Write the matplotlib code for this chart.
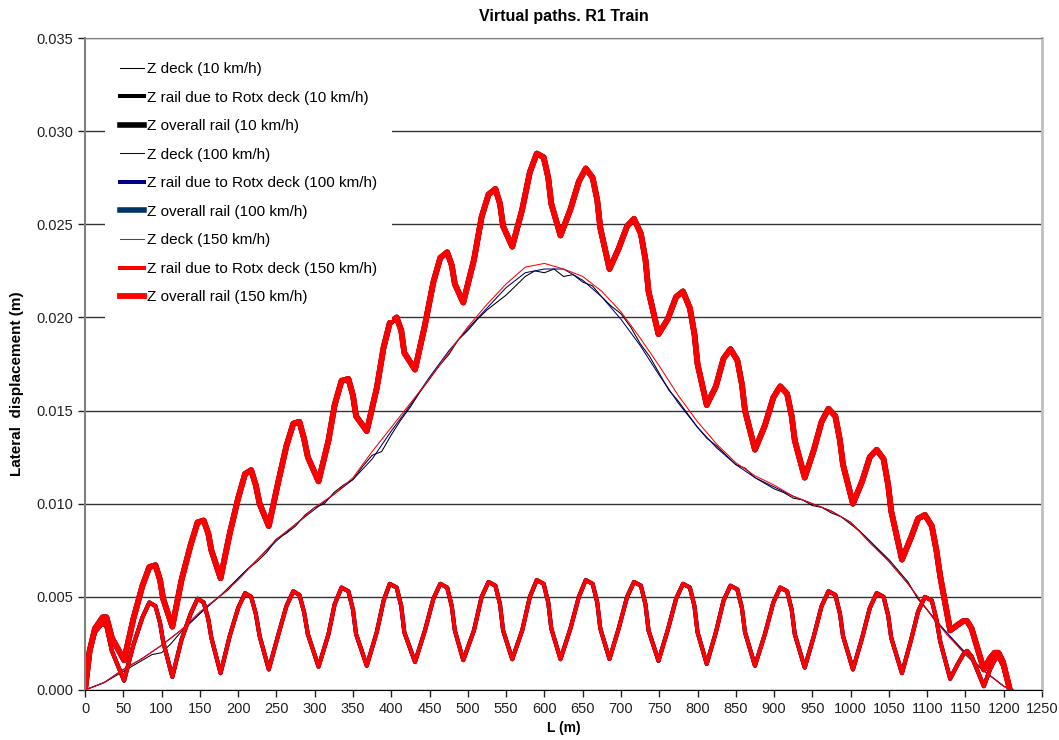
import matplotlib.pyplot as plt
import numpy as np

plt.rcParams['font.family'] = ['Liberation Sans', 'DejaVu Sans']
plt.rcParams['lines.solid_joinstyle'] = 'round'

# deck lateral displacement, smooth samples (100 and 150 km/h)
x_deck = [0, 25, 50, 75, 100, 125, 150, 175, 200, 225, 250, 275, 300, 325, 350,
          375, 400, 425, 450, 475, 500, 525, 550, 575, 600, 625, 650, 675, 700,
          725, 750, 775, 800, 825, 850, 875, 900, 925, 950, 975, 1000, 1025,
          1050, 1075, 1100, 1125, 1150, 1175, 1200, 1210]
deck_150 = [0.0, 0.0004, 0.0011, 0.0017, 0.0024, 0.0032, 0.0042, 0.0050, 0.0059,
            0.0070, 0.0081, 0.0089, 0.0098, 0.0105, 0.0114, 0.0128, 0.0141, 0.0154,
            0.0167, 0.0181, 0.0195, 0.0207, 0.0218, 0.0227, 0.0229, 0.0226, 0.0222,
            0.0214, 0.0203, 0.0189, 0.0174, 0.0158, 0.0144, 0.0132, 0.0122, 0.0115,
            0.0110, 0.0104, 0.0100, 0.0096, 0.0090, 0.0079, 0.0069, 0.0057, 0.0043,
            0.0030, 0.0019, 0.0010, 0.0002, 0.0]
deck_100 = [0.0, 0.0004, 0.0011, 0.0017, 0.0024, 0.0032, 0.0041, 0.0050, 0.0060,
            0.0070, 0.0080, 0.0089, 0.0097, 0.0105, 0.0113, 0.0124, 0.0139, 0.0153,
            0.0168, 0.0182, 0.0194, 0.0205, 0.0216, 0.0224, 0.0226, 0.0226, 0.0220,
            0.0211, 0.0199, 0.0185, 0.0169, 0.0154, 0.0141, 0.0130, 0.0121, 0.0114,
            0.0109, 0.0104, 0.0100, 0.0096, 0.0090, 0.0080, 0.0069, 0.0057, 0.0043,
            0.0031, 0.0020, 0.0010, 0.0002, 0.0]

# deck at 10 km/h, finer and rougher
x_deck_10 = list(np.arange(0, 1213, 12.5))
deck_10 = [0.0000, 0.0002, 0.0004, 0.0007, 0.0010, 0.0013, 0.0016, 0.0019, 0.0020,
           0.0025, 0.0031, 0.0036, 0.0041, 0.0046, 0.0050, 0.0054, 0.0060, 0.0065,
           0.0069, 0.0074, 0.0081, 0.0084, 0.0088, 0.0094, 0.0098, 0.0100, 0.0106,
           0.0110, 0.0113, 0.0120, 0.0126, 0.0128, 0.0137, 0.0145, 0.0152, 0.0160,
           0.0167, 0.0174, 0.0180, 0.0188, 0.0193, 0.0199, 0.0204, 0.0208, 0.0212,
           0.0217, 0.0222, 0.0225, 0.0224, 0.0226, 0.0222, 0.0223, 0.0219, 0.0217,
           0.0211, 0.0206, 0.0202, 0.0195, 0.0186, 0.0179, 0.0170, 0.0161, 0.0155,
           0.0148, 0.0141, 0.0135, 0.0131, 0.0126, 0.0121, 0.0119, 0.0114, 0.0111,
           0.0108, 0.0106, 0.0103, 0.0102, 0.0099, 0.0098, 0.0095, 0.0093, 0.0089,
           0.0085, 0.0080, 0.0075, 0.0070, 0.0064, 0.0058, 0.0049, 0.0043, 0.0036,
           0.0031, 0.0025, 0.0019, 0.0014, 0.0010, 0.0006, 0.0002, 0.0000]

# rail samples (rotation of the deck and overall rail path)
x_rail = [0, 6, 13, 23, 28, 35, 51,
          63, 75, 84, 92, 98, 102, 114,
          126, 138, 147, 155, 161, 165, 177,
          189, 200, 209, 217, 223, 228, 240,
          252, 263, 272, 280, 286, 291, 305,
          318, 326, 335, 344, 350, 354, 368,
          381, 390, 398, 407, 413, 417, 431,
          444, 455, 464, 473, 479, 483, 494,
          508, 518, 527, 536, 542, 546, 558,
          571, 581, 590, 599, 605, 609, 621,
          634, 645, 654, 663, 669, 673, 685,
          697, 708, 717, 726, 732, 736, 749,
          761, 772, 781, 790, 796, 800, 812,
          824, 834, 843, 852, 858, 862, 875,
          888, 899, 908, 917, 923, 927, 940,
          952, 962, 971, 980, 986, 990, 1003,
          1015, 1025, 1034, 1043, 1049, 1053, 1067,
          1079, 1088, 1097, 1106, 1112, 1117, 1130,
          1140, 1147, 1152, 1158, 1163, 1174,
          1182, 1188, 1193, 1199, 1208]
rail_rotx = [0.0, 0.0020, 0.0031, 0.0036, 0.0034, 0.0021, 0.0005,
             0.0024, 0.0039, 0.0047, 0.0045, 0.0036, 0.0026, 0.0007,
             0.0027, 0.0041, 0.0049, 0.0047, 0.0038, 0.0028, 0.0009,
             0.0029, 0.0044, 0.0052, 0.0050, 0.0041, 0.0029, 0.0011,
             0.0029, 0.0045, 0.0053, 0.0051, 0.0042, 0.0030, 0.00125,
             0.0030, 0.0046, 0.0055, 0.0053, 0.0043, 0.0030, 0.0013,
             0.0031, 0.0048, 0.0057, 0.0055, 0.0045, 0.0031, 0.0015,
             0.0032, 0.0049, 0.0057, 0.0055, 0.0045, 0.0032, 0.0016,
             0.0032, 0.0050, 0.0058, 0.0056, 0.0046, 0.0032, 0.00165,
             0.0032, 0.0050, 0.0059, 0.0057, 0.0047, 0.0033, 0.00165,
             0.0033, 0.0050, 0.0059, 0.0057, 0.0047, 0.0033, 0.00166,
             0.0033, 0.0050, 0.0058, 0.0056, 0.0046, 0.0032, 0.00156,
             0.0032, 0.0049, 0.0057, 0.0055, 0.0045, 0.0031, 0.0014,
             0.0031, 0.0048, 0.0056, 0.0054, 0.0044, 0.0031, 0.0013,
             0.0030, 0.0047, 0.0055, 0.0053, 0.0043, 0.0030, 0.0012,
             0.0029, 0.0045, 0.0053, 0.0051, 0.0041, 0.0029, 0.0011,
             0.0028, 0.0044, 0.0052, 0.0050, 0.0040, 0.0028, 0.0009,
             0.0027, 0.0042, 0.0050, 0.0048, 0.0038, 0.0026, 0.0006,
             0.0014, 0.0019, 0.0021, 0.0018, 0.0013, 0.0002,
             0.0011, 0.0016, 0.0018, 0.0013, 0.0]
rail_overall = [0.0, 0.0021, 0.0033, 0.0039, 0.0039, 0.0028, 0.0016,
                0.0038, 0.0056, 0.0066, 0.0067, 0.0059, 0.0049, 0.0034,
                0.0059, 0.0078, 0.0090, 0.0091, 0.0084, 0.0075, 0.0060,
                0.0084, 0.0103, 0.0116, 0.0118, 0.0110, 0.0100, 0.0088,
                0.0111, 0.0131, 0.0143, 0.0144, 0.0135, 0.0125, 0.0112,
                0.0134, 0.0153, 0.0166, 0.0167, 0.0158, 0.0147, 0.0139,
                0.0162, 0.0184, 0.0197, 0.0200, 0.0193, 0.0181, 0.0172,
                0.0196, 0.0219, 0.0232, 0.0235, 0.0228, 0.0218, 0.0208,
                0.0231, 0.0254, 0.0266, 0.0269, 0.0261, 0.0249, 0.0238,
                0.0258, 0.0278, 0.0288, 0.0286, 0.0275, 0.0261, 0.0244,
                0.0258, 0.0273, 0.0280, 0.0275, 0.0263, 0.0248, 0.0226,
                0.0237, 0.0249, 0.0253, 0.0245, 0.0231, 0.0214, 0.0191,
                0.0199, 0.0211, 0.0214, 0.0205, 0.0191, 0.0175, 0.0153,
                0.0163, 0.0178, 0.0183, 0.0177, 0.0164, 0.0150, 0.0129,
                0.0142, 0.0157, 0.0163, 0.0159, 0.0147, 0.0134, 0.0114,
                0.0129, 0.0144, 0.0151, 0.0147, 0.0134, 0.0121, 0.0100,
                0.0112, 0.0125, 0.0129, 0.0124, 0.0110, 0.0096, 0.0070,
                0.0082, 0.0092, 0.0094, 0.0088, 0.0075, 0.0061, 0.0032,
                0.0035, 0.0037, 0.0037, 0.0033, 0.0026, 0.0011,
                0.0017, 0.0020, 0.0020, 0.0015, 0.0]

fig = plt.figure(figsize=(10.59, 7.40), dpi=100)
ax = fig.add_axes([0.0803, 0.0676, 0.9037, 0.881])

ax.plot(x_deck_10, deck_10, color='black', lw=0.75, label='Z deck (10 km/h)')
ax.plot(x_rail, rail_rotx, color='black', lw=2.9, label='Z rail due to Rotx deck (10 km/h)')
ax.plot(x_rail, rail_overall, color='black', lw=4.0, label='Z overall rail (10 km/h)')
ax.plot(x_deck, deck_100, color='#000080', lw=0.75, label='Z deck (100 km/h)')
ax.plot(x_rail, rail_rotx, color='#000080', lw=2.9, label='Z rail due to Rotx deck (100 km/h)')
ax.plot(x_rail, rail_overall, color='#003366', lw=4.0, label='Z overall rail (100 km/h)')
ax.plot(x_deck, deck_150, color='#ff0000', lw=0.75, label='Z deck (150 km/h)')
ax.plot(x_rail, rail_rotx, color='#ff0000', lw=2.9, label='Z rail due to Rotx deck (150 km/h)')
ax.plot(x_rail, rail_overall, color='#ff0000', lw=4.2, label='Z overall rail (150 km/h)')

ax.set_xlim(0, 1250)
ax.set_ylim(0, 0.035)
ax.set_xticks(np.arange(0, 1251, 50))
ax.set_yticks(np.arange(0, 0.0351, 0.005))
ax.yaxis.set_major_formatter(plt.FormatStrFormatter('%.3f'))
ax.tick_params(labelsize=10.5, colors='#222222', length=5, width=1, direction='out')
ax.grid(axis='y', color='#333333', lw=1)
ax.set_axisbelow(True)

ax.spines['left'].set_color('#808080')
ax.spines['left'].set_linewidth(1.5)
ax.spines['bottom'].set_color('black')
ax.spines['right'].set_color('#c0c0c0')
ax.spines['right'].set_linewidth(2)
ax.spines['top'].set_color('#808080')

ax.set_title('Virtual paths. R1 Train', fontsize=11.5, fontweight='bold', pad=12)
ax.set_xlabel('L (m)', fontsize=10, fontweight='bold', labelpad=4)
ax.set_ylabel('Lateral  displacement (m)', fontsize=11, fontweight='bold')
ax.yaxis.set_label_coords(-0.0637, 0.47)

leg = ax.legend(loc='upper left', bbox_to_anchor=(0.0126, 0.998), fontsize=11,
                frameon=True, fancybox=False, edgecolor='none', facecolor='white',
                framealpha=1, borderpad=1.0, labelspacing=0.95,
                handlelength=1.6, handletextpad=0.15)

fig.savefig('out.png', dpi=100)
